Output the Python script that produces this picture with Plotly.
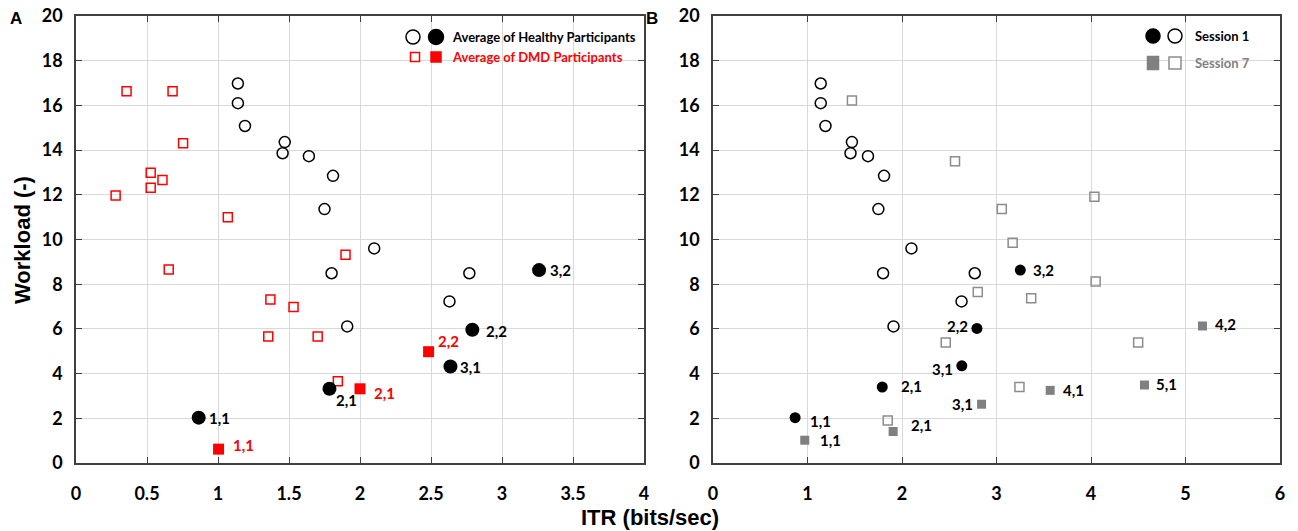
import plotly.graph_objects as go

# ---------------- Data ----------------
# Panel A: healthy (open circles) and DMD (open squares) individual, plus averages (filled)
healthy_x = [1.14, 1.14, 1.19, 1.47, 1.455, 1.64, 1.81, 1.75, 2.10, 1.80, 2.77, 2.63, 1.91]
healthy_y = [16.98, 16.1, 15.08, 14.36, 13.86, 13.73, 12.85, 11.36, 9.6, 8.49, 8.49, 7.23, 6.11]
dmd_x = [0.356, 0.68, 0.754, 0.526, 0.609, 0.526, 0.279, 1.069, 0.653, 1.898, 1.369, 1.532, 1.354, 1.702, 1.844]
dmd_y = [16.63, 16.63, 14.31, 12.99, 12.66, 12.32, 11.97, 11.0, 8.66, 9.32, 7.31, 6.98, 5.66, 5.66, 3.66]
healthy_avg_x = [0.864, 1.785, 2.637, 2.791, 3.261]
healthy_avg_y = [2.03, 3.32, 4.32, 5.96, 8.63]
healthy_avg_lbl = ["1,1", "2,1", "3,1", "2,2", "3,2"]
dmd_avg_x = [1.004, 2.0, 2.483]
dmd_avg_y = [0.62, 3.32, 4.98]
dmd_avg_lbl = ["1,1", "2,1", "2,2"]

# Panel B: session 1 (circles) and session 7 (squares)
s1_open_x = healthy_x
s1_open_y = healthy_y
s1_fill_x = [0.869, 1.791, 2.633, 2.793, 3.252]
s1_fill_y = [2.03, 3.40, 4.35, 6.02, 8.63]
s1_fill_lbl = ["1,1", "2,1", "3,1", "2,2", "3,2"]
s7_open_x = [1.47, 2.561, 3.056, 3.171, 4.036, 2.802, 3.367, 4.049, 2.463, 4.499, 3.243, 1.849]
s7_open_y = [16.22, 13.5, 11.37, 9.86, 11.91, 7.65, 7.37, 8.12, 5.39, 5.39, 3.40, 1.90]
s7_fill_x = [0.971, 1.906, 2.842, 3.568, 4.566, 5.18]
s7_fill_y = [1.02, 1.41, 2.63, 3.25, 3.49, 6.13]
s7_fill_lbl = ["1,1", "2,1", "3,1", "4,1", "5,1", "4,2"]

# label offsets (pixels): (xshift, yshift, xanchor)
healthy_avg_off = [(8, 0, "left"), (5, -11, "left"), (8, -1, "left"), (12, -1, "left"), (9, 0, "left")]
dmd_avg_off = [(12, 4, "left"), (12, -4, "left"), (7, 11, "left")]
s1_fill_off = [(13, -3, "left"), (17, 1, "left"), (-7, -3, "right"), (-7, 2, "right"), (11, 0, "left")]
s7_fill_off = [(13, 0, "left"), (16, 6, "left"), (-7, 0, "right"), (11, 0, "left"), (10, 1, "left"), (10, 2, "left")]

RED = "#ff0000"
GRAY = "#808080"
GRAY_OPEN = "#8c8c8c"
FONT = "Lato"

fig = go.Figure()

# Panel A traces
fig.add_trace(go.Scatter(x=dmd_x, y=dmd_y, mode="markers", xaxis="x", yaxis="y",
                         marker=dict(symbol="square-open", size=9, color=RED, line=dict(width=1.5, color=RED))))
fig.add_trace(go.Scatter(x=healthy_x, y=healthy_y, mode="markers", xaxis="x", yaxis="y",
                         marker=dict(symbol="circle-open", size=11, color="black", line=dict(width=1.5, color="black"))))
fig.add_trace(go.Scatter(x=healthy_avg_x, y=healthy_avg_y, mode="markers", xaxis="x", yaxis="y",
                         marker=dict(symbol="circle", size=14, color="black")))
fig.add_trace(go.Scatter(x=dmd_avg_x, y=dmd_avg_y, mode="markers", xaxis="x", yaxis="y",
                         marker=dict(symbol="square", size=11, color=RED)))

# Panel B traces
fig.add_trace(go.Scatter(x=s7_open_x, y=s7_open_y, mode="markers", xaxis="x2", yaxis="y2",
                         marker=dict(symbol="square-open", size=9, color=GRAY_OPEN, line=dict(width=1.5, color=GRAY_OPEN))))
fig.add_trace(go.Scatter(x=s1_open_x, y=s1_open_y, mode="markers", xaxis="x2", yaxis="y2",
                         marker=dict(symbol="circle-open", size=11, color="black", line=dict(width=1.5, color="black"))))
fig.add_trace(go.Scatter(x=s1_fill_x, y=s1_fill_y, mode="markers", xaxis="x2", yaxis="y2",
                         marker=dict(symbol="circle", size=11, color="black")))
fig.add_trace(go.Scatter(x=s7_fill_x, y=s7_fill_y, mode="markers", xaxis="x2", yaxis="y2",
                         marker=dict(symbol="square", size=9, color=GRAY)))

annotations = []

def add_labels(xs, ys, lbls, offs, color, xref, yref):
    for x, y, t, (dx, dy, anc) in zip(xs, ys, lbls, offs):
        annotations.append(dict(x=x, y=y, xref=xref, yref=yref, text=t, showarrow=False,
                                xshift=dx, yshift=dy, xanchor=anc, yanchor="middle",
                                font=dict(family=FONT, size=15, color=color, weight="bold")))

add_labels(healthy_avg_x, healthy_avg_y, healthy_avg_lbl, healthy_avg_off, "black", "x", "y")
add_labels(dmd_avg_x, dmd_avg_y, dmd_avg_lbl, dmd_avg_off, RED, "x", "y")
add_labels(s1_fill_x, s1_fill_y, s1_fill_lbl, s1_fill_off, "black", "x2", "y2")
add_labels(s7_fill_x, s7_fill_y, s7_fill_lbl, s7_fill_off, "black", "x2", "y2")

W, H = 1298, 531
def px(x):
    return x / W
def py(y):
    return 1 - y / H

# Legend texts
legend_font = dict(family=FONT, size=13, weight="bold")
annotations += [
    dict(x=px(450), y=py(37), xref="paper", yref="paper", text="Average of Healthy Participants",
         showarrow=False, xanchor="left", yanchor="middle", font=dict(legend_font, color="black")),
    dict(x=px(450), y=py(57), xref="paper", yref="paper", text="Average of DMD Participants",
         showarrow=False, xanchor="left", yanchor="middle", font=dict(legend_font, color=RED)),
    dict(x=px(1193), y=py(36), xref="paper", yref="paper", text="Session 1",
         showarrow=False, xanchor="left", yanchor="middle", font=dict(legend_font, color="black")),
    dict(x=px(1193), y=py(63), xref="paper", yref="paper", text="Session 7",
         showarrow=False, xanchor="left", yanchor="middle", font=dict(legend_font, color=GRAY)),
    # panel letters
    dict(x=px(8), y=py(18), xref="paper", yref="paper", text="<b>A</b>", showarrow=False,
         xanchor="left", yanchor="middle", font=dict(family="Liberation Sans", size=17, color="black")),
    dict(x=px(644), y=py(18), xref="paper", yref="paper", text="<b>B</b>", showarrow=False,
         xanchor="left", yanchor="middle", font=dict(family="Liberation Sans", size=17, color="black")),
    # axis titles
    dict(x=px(650), y=py(517), xref="paper", yref="paper", text="<b>ITR (bits/sec)</b>", showarrow=False,
         xanchor="center", yanchor="middle", font=dict(family="Liberation Sans", size=22, color="black")),
    dict(x=px(22), y=py(240), xref="paper", yref="paper", text="<b>Workload (-)</b>", showarrow=False,
         textangle=-90, xanchor="center", yanchor="middle", font=dict(family="Liberation Sans", size=22, color="black")),
]

# Legend symbols as shapes (pixel-sized)
def sym(cx, cy, kind, w, h, color, filled):
    return dict(type="circle" if kind == "circle" else "rect", xref="paper", yref="paper",
                xsizemode="pixel", ysizemode="pixel", xanchor=px(cx), yanchor=py(cy),
                x0=-w / 2, x1=w / 2, y0=-h / 2, y1=h / 2,
                line=dict(color=color, width=1.5),
                fillcolor=color if filled else "white")

shapes = [
    sym(413, 37, "circle", 14, 14, "black", False),
    sym(436, 37, "circle", 15, 15, "black", True),
    sym(415, 57, "rect", 9, 9, RED, False),
    sym(436, 57, "rect", 10, 10, RED, True),
    sym(1153, 36, "circle", 14, 14, "black", True),
    sym(1175, 36, "circle", 14, 14, "black", False),
    sym(1153, 63, "rect", 11, 13, GRAY, True),
    sym(1175, 63, "rect", 12, 12, GRAY_OPEN, False),
]

axis_common = dict(showgrid=True, gridcolor="#d9d9d9", gridwidth=1, showline=True, linecolor="#404040",
                   linewidth=1.5, mirror="ticks", ticks="inside", ticklen=6, tickcolor="#404040",
                   tickwidth=1.2, zeroline=False, automargin=False,
                   tickfont=dict(family=FONT, size=18, color="black", weight="bold"))

ydom = [py(463), py(16)]
fig.update_layout(
    width=W, height=H, margin=dict(l=0, r=0, t=0, b=0, autoexpand=False),
    paper_bgcolor="white", plot_bgcolor="white", showlegend=False,
    xaxis=dict(axis_common, domain=[px(76), px(644)], range=[0, 4], dtick=0.5, anchor="y",
               ticklabelstandoff=14),
    yaxis=dict(axis_common, domain=ydom, range=[0, 20], dtick=2, anchor="x", ticklabelstandoff=8),
    xaxis2=dict(axis_common, domain=[px(713), px(1280)], range=[0, 6], dtick=1, anchor="y2",
                ticklabelstandoff=14),
    yaxis2=dict(axis_common, domain=ydom, range=[0, 20], dtick=2, anchor="x2", ticklabelstandoff=8),
    annotations=annotations, shapes=shapes,
)

fig.write_html("out.html")
